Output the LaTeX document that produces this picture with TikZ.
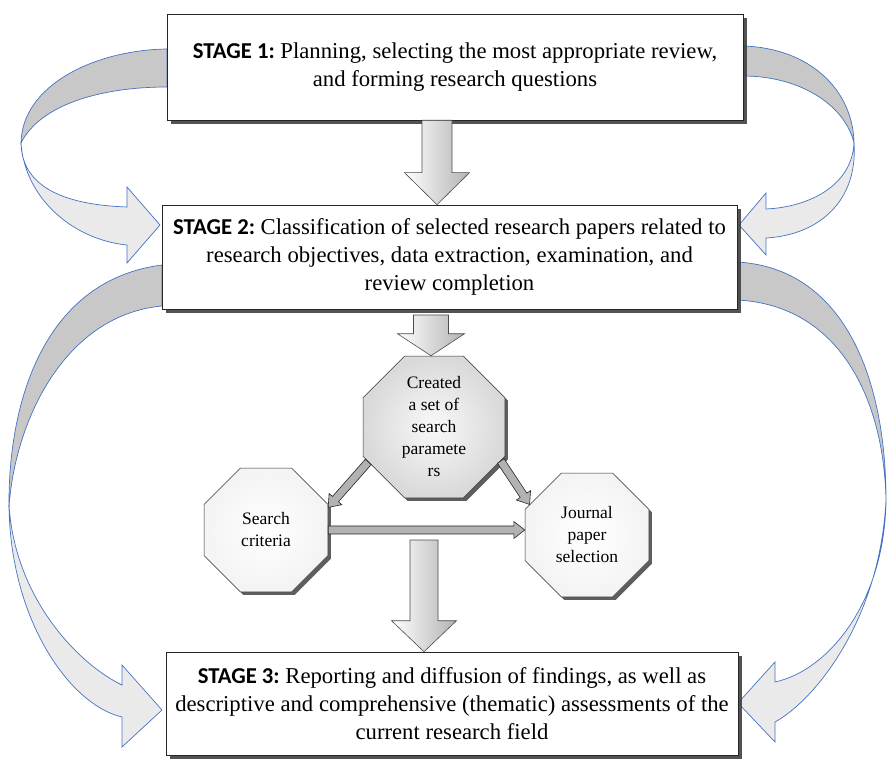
\documentclass[tikz,border=0pt]{standalone}
\usepackage{fontspec}
\setmainfont{Liberation Serif}
\newfontfamily\stagefont{Carlito}
\usetikzlibrary{shapes.geometric,shadows,calc}

\definecolor{edgeblue}{RGB}{68,114,196}
\definecolor{bandDark}{RGB}{200,200,200}
\definecolor{bandLight}{RGB}{234,234,234}

% #1 style, #2 from, #3 to, #4 half shaft, #5 half head, #6 head length
\newcommand\blockarr[6]{%
  \coordinate (bhA) at (#2);
  \coordinate (bhB) at (#3);
  \coordinate (bhH) at ($(bhB)!#6!(bhA)$);
  \draw[#1] ($(bhA)!#4!90:(bhB)$) -- ($(bhH)!#4!90:(bhB)$) -- ($(bhH)!#5!90:(bhB)$) -- (bhB)
    -- ($(bhH)!#5!-90:(bhB)$) -- ($(bhH)!#4!-90:(bhB)$) -- ($(bhA)!#4!-90:(bhB)$) -- cycle;
}
\newcommand\stg[1]{\mbox{\stagefont\bfseries #1}}

\tikzset{
  stagebox/.style={draw=black!85, line width=0.6pt, fill=white, inner sep=0pt,
    align=center, font=\fontsize{22.7}{28}\selectfont,
    drop shadow={shadow xshift=4pt, shadow yshift=-4pt, fill=black!75, opacity=0.9}},
  octo/.style={regular polygon, regular polygon sides=8, minimum size=134pt, inner sep=0pt,
    draw=black!80, line width=0.6pt, align=center, font=\fontsize{17.5}{22}\selectfont,
    drop shadow={shadow xshift=3pt, shadow yshift=-3pt, fill=black!70, opacity=0.9}},
  octogray/.style={octo, inner color=gray!5, outer color=gray!30},
  octowhite/.style={octo, inner color=white, outer color=gray!9},
  bigarrow/.style={draw=black!70, line width=0.6pt, left color=white, right color=black!30},
  thinarrow/.style={draw=black!85, line width=0.6pt, fill=black!30},
  banddark/.style={draw=edgeblue, line width=0.7pt, fill=bandDark},
  bandlight/.style={draw=edgeblue, line width=0.7pt, fill=bandLight},
}

\begin{document}
\begin{tikzpicture}[x=1pt,y=-1pt]
\useasboundingbox (0,0) rectangle (887,762);

% ---- curved band arrows (drawn first, behind the boxes)
% top left
\path[banddark] (167,49) .. controls (95,50) and (22,85) .. (21,143)
  .. controls (40,105) and (100,87) .. (167,87) -- cycle;
\path[bandlight] (21,143) .. controls (22,190) and (70,205) .. (127,207)
  -- (127,187) -- (160,225) -- (127,263) -- (127,245)
  .. controls (75,240) and (25,200) .. (21,143) -- cycle;
% top right
\path[banddark] (743,46) .. controls (810,48) and (853,90) .. (854,143)
  .. controls (845,105) and (800,76) .. (743,76) -- cycle;
\path[bandlight] (854,143) .. controls (852,185) and (810,207) .. (766,209)
  -- (766,193) -- (739,225) -- (766,255) -- (766,238)
  .. controls (820,235) and (858,200) .. (854,143) -- cycle;
% bottom left
\path[banddark] (162,265) .. controls (45,280) and (8,400) .. (9,507)
  .. controls (15,420) and (65,315) .. (162,306) -- cycle;
\path[bandlight] (9,505) .. controls (15,600) and (80,665) .. (122,685)
  -- (122,665) -- (162,710) -- (122,747) -- (122,717)
  .. controls (70,705) and (10,620) .. (9,505) -- cycle;
% bottom right
\path[banddark] (737,262) .. controls (845,268) and (886,380) .. (886,500)
  .. controls (884,400) and (840,305) .. (737,300) -- cycle;
\path[bandlight] (886,500) .. controls (885,600) and (830,670) .. (775,682)
  -- (775,662) -- (738,703) -- (775,742) -- (775,722)
  .. controls (815,700) and (880,620) .. (886,500) -- cycle;

% ---- stage boxes
\node[stagebox, minimum width=576pt, minimum height=106pt] (s1) at (455,67)
  {\stg{STAGE 1:} Planning, selecting the most appropriate review,\\
   and forming research questions};
\node[stagebox, minimum width=575pt, minimum height=104pt] (s2) at (449.5,257)
  {\stg{STAGE 2:} Classification of selected research papers related to\\
   research objectives, data extraction, examination, and\\
   review completion};
\node[stagebox, minimum width=572pt, minimum height=103pt] (s3) at (452,703.5)
  {\stg{STAGE 3:} Reporting and diffusion of findings, as well as\\
   descriptive and comprehensive (thematic) assessments of the\\
   current research field};

% ---- octagons
\node[octogray] (par) at (434,427) {Created\\a set of\\search\\paramete\\rs};
\node[octowhite] (crit) at (266,530) {Search\\criteria};
\node[octowhite] (sel) at (587,535) {Journal\\paper\\selection};

% ---- block arrows
\blockarr{bigarrow}{437,0 |- s1.south}{437,0 |- s2.north}{15pt}{32.5pt}{32pt}
\blockarr{bigarrow}{431,315}{431,0 |- par.north}{17.5pt}{33.5pt}{22pt}
\blockarr{bigarrow}{424,540}{424,0 |- s3.north}{14pt}{32.5pt}{31pt}

\blockarr{thinarrow}{par.208}{crit.20}{4pt}{8.5pt}{11pt}
\blockarr{thinarrow}{par.333}{sel.152}{4pt}{8.5pt}{11pt}
\blockarr{thinarrow}{crit.east}{crit.east -| sel.west}{4pt}{8.5pt}{11pt}
\end{tikzpicture}
\end{document}
